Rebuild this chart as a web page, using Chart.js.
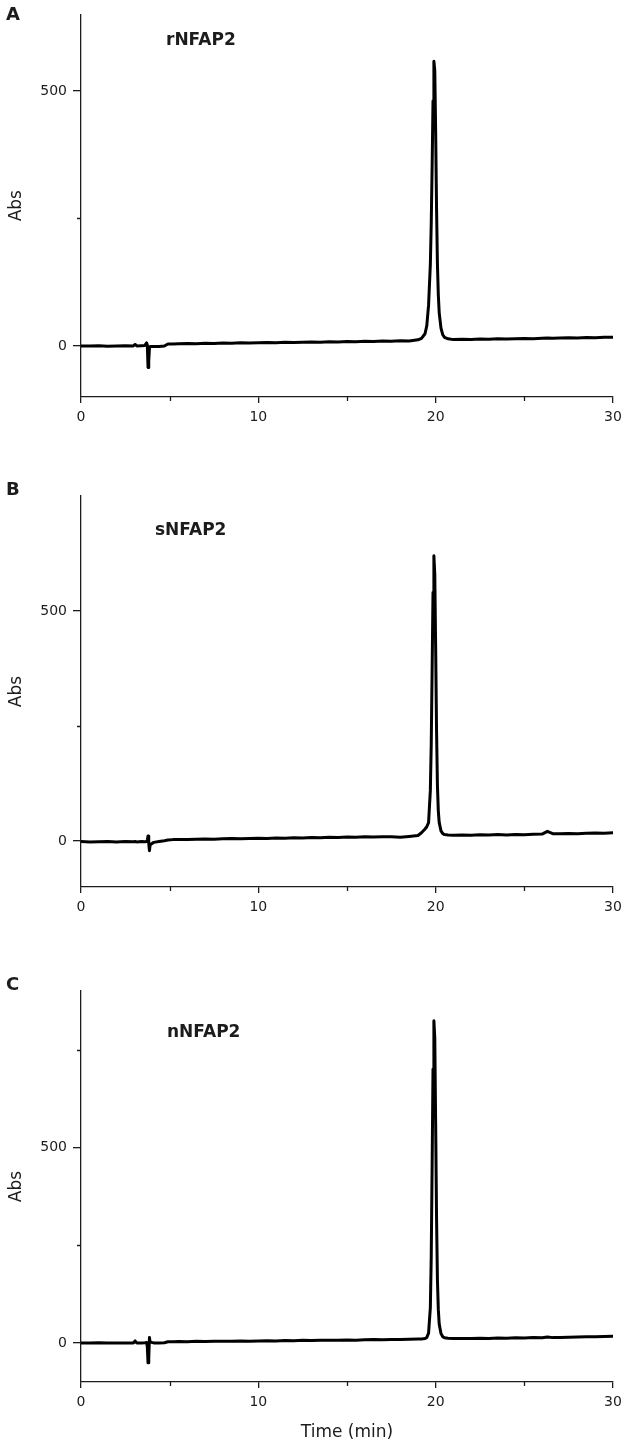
<!DOCTYPE html>
<html>
<head>
<meta charset="utf-8">
<title>NFAP2 chromatograms</title>
<script src="https://cdn.jsdelivr.net/npm/chart.js@4.4.1/dist/chart.umd.min.js"></script>
<style>
  body { margin: 0; background: #fff; }
  canvas { position: absolute; left: 0; }
</style>
</head>
<body>
<canvas id="chartA" width="630" height="480" style="top:0px"></canvas>
<canvas id="chartB" width="630" height="485" style="top:480px"></canvas>
<canvas id="chartC" width="630" height="490" style="top:965px"></canvas>
<script>
// retention time (min), shared by the three runs
const times = [
  0, 0.5, 1, 1.5, 2, 2.5, 2.95, 3.05, 3.15, 3.4,
  3.6, 3.7, 3.74, 3.78, 3.82, 3.86, 3.9, 4.1, 4.4, 4.7,
  4.9, 5.2, 5.5, 6, 6.5, 7, 7.5, 8, 8.5, 9,
  9.5, 10, 10.5, 11, 11.5, 12, 12.5, 13, 13.5, 14,
  14.5, 15, 15.5, 16, 16.5, 17, 17.5, 18, 18.5, 19,
  19.2, 19.4, 19.5, 19.6, 19.7, 19.75, 19.8, 19.85, 19.9, 19.95,
  20, 20.05, 20.1, 20.15, 20.2, 20.3, 20.4, 20.5, 20.7, 21,
  21.5, 22, 22.5, 23, 23.5, 24, 24.5, 25, 25.5, 26,
  26.3, 26.6, 27, 27.5, 28, 28.5, 29, 29.5, 30
];

// A - rNFAP2
const absA = [
  0, 0, 0.5, -0.5, 0, 0.5, 0, 3, 0, 0.5,
  1, 6, 2, -42, -30, -4, -1, -1, -1, 0,
  4, 4, 4.5, 5, 4.5, 5.5, 5, 6, 5.5, 6.5,
  6, 6.5, 7, 6.5, 7.5, 7, 7.5, 8, 7.5, 8.5,
  8, 9, 8.5, 9.5, 9, 10, 9.5, 10.5, 10, 12,
  15, 24, 40, 80, 160, 240, 350, 480, 558, 540,
  420, 270, 160, 100, 65, 35, 22, 17, 14, 12.5,
  13, 12.5, 13.5, 13, 14, 13.5, 14, 14.5, 14, 15,
  15.5, 15, 15.5, 16, 15.5, 16.5, 16, 17, 17
];

// B - sNFAP2
const absB = [
  -1, -2, -1.5, -1, -2, -1, -1.5, -1, -2, -1,
  -1.5, -1, 2, 11, -5, -21, -8, -3, -1, 0.5,
  2, 3, 3.5, 3, 4, 4.5, 4, 5, 5.5, 5,
  5.5, 6, 5.5, 6.5, 6, 7, 6.5, 7.5, 7, 8,
  7.5, 8.5, 8, 9, 8.5, 9.5, 9, 8, 10, 12,
  18, 26, 31, 40, 110, 210, 370, 540, 620, 580,
  420, 240, 120, 65, 40, 22, 16, 14, 13, 12.5,
  13, 12.5, 13.5, 13, 14, 13, 14, 13.5, 14.5, 15,
  21, 16, 15.5, 16.5, 16, 17, 17.5, 17, 18
];

// C - nNFAP2
const absC = [
  0, 0, 0.5, 0, -0.5, 0, 0, 5, 0, 0,
  0.5, 1, -10, -51, -40, 14, 2, 0, 0, 0.5,
  3, 3, 3.5, 3, 4, 3.5, 4.5, 4, 4.5, 5,
  4.5, 5, 5.5, 5, 6, 5.5, 6.5, 6, 7, 6.5,
  7, 7.5, 7, 8, 8.5, 8, 9, 8.5, 9.5, 10,
  10, 11, 14, 25, 90, 220, 450, 700, 824, 780,
  560, 320, 160, 85, 48, 24, 16, 13, 12, 11,
  11.5, 11, 12, 11.5, 12.5, 12, 13, 12.5, 13.5, 13,
  15, 13.5, 14, 14.5, 15, 15.5, 16, 16.5, 17
];

const xTicks = [0, 10, 20, 30];
const xMinorTicks = [5, 15, 25];
const yTicks = [0, 500];
const yMinorA = [250];
const yMinorB = [250];
const yMinorC = [250, 750];

const ink = '#1c1c1c';
const font = '"DejaVu Sans", "Liberation Sans", sans-serif';

// short unlabelled ticks between the labelled ones
const minorTicks = {
  id: 'minorTicks',
  afterDraw(chart, args, opts) {
    const { ctx, scales: { x, y } } = chart;
    ctx.save();
    ctx.strokeStyle = ink;
    ctx.lineWidth = 1.3;
    ctx.beginPath();
    opts.x.forEach(v => {
      const px = Math.round(x.getPixelForValue(v)) + 0.5;
      ctx.moveTo(px, x.top);
      ctx.lineTo(px, x.top + 4);
    });
    opts.y.forEach(v => {
      const py = Math.round(y.getPixelForValue(v)) + 0.5;
      ctx.moveTo(y.right, py);
      ctx.lineTo(y.right - 4, py);
    });
    ctx.stroke();
    ctx.restore();
  }
};

// panel letter and sample name
const panelText = {
  id: 'panelText',
  afterDraw(chart, args, opts) {
    const { ctx } = chart;
    ctx.save();
    ctx.fillStyle = ink;
    ctx.textBaseline = 'alphabetic';
    ctx.font = 'bold 18px ' + font;
    ctx.fillText(opts.letter, 6, opts.letterY);
    ctx.font = 'bold 17px ' + font;
    ctx.fillText(opts.name, opts.nameX, opts.nameY);
    ctx.restore();
  }
};

function makeChart(id, values, yMax, yMinor, padTop, xHeight, text, withXTitle) {
  return new Chart(document.getElementById(id), {
    type: 'line',
    data: {
      datasets: [{
        data: times.map((t, i) => ({ x: t, y: values[i] })),
        borderColor: '#000',
        borderWidth: 3,
        borderJoinStyle: 'round',
        borderCapStyle: 'round',
        pointRadius: 0,
        tension: 0,
        fill: false
      }]
    },
    options: {
      responsive: false,
      animation: false,
      layout: { padding: { top: padTop, right: 17, bottom: 0, left: 0 } },
      plugins: {
        legend: { display: false },
        tooltip: { enabled: false },
        minorTicks: { x: xMinorTicks, y: yMinor },
        panelText: text
      },
      scales: {
        x: {
          type: 'linear',
          min: 0,
          max: 30,
          afterBuildTicks: s => { s.ticks = xTicks.map(v => ({ value: v })); },
          afterFit: s => { s.height = xHeight; },
          grid: { drawOnChartArea: false, tickLength: 6, color: ink, lineWidth: 1.3 },
          border: { color: ink, width: 1.3 },
          ticks: { color: ink, padding: 6, maxRotation: 0, font: { family: font, size: 14 } },
          title: {
            display: withXTitle,
            text: 'Time (min)',
            color: ink,
            padding: { top: 4, bottom: 12 },
            font: { family: font, size: 17 }
          }
        },
        y: {
          min: -100,
          max: yMax,
          afterBuildTicks: s => { s.ticks = yTicks.map(v => ({ value: v })); },
          afterFit: s => { s.width = 81; },
          grid: { drawOnChartArea: false, tickLength: 8, color: ink, lineWidth: 1.3 },
          border: { color: ink, width: 1.3 },
          ticks: { color: ink, padding: 6, font: { family: font, size: 14 } },
          title: {
            display: true,
            text: 'Abs',
            color: ink,
            padding: { top: 6, bottom: 0 },
            font: { family: font, size: 17 }
          }
        }
      }
    },
    plugins: [minorTicks, panelText]
  });
}

makeChart('chartA', absA, 650, yMinorA, 6, 83,
  { letter: 'A', letterY: 20, name: 'rNFAP2', nameX: 166, nameY: 45 }, false);
makeChart('chartB', absB, 750, yMinorB, 16, 78,
  { letter: 'B', letterY: 15, name: 'sNFAP2', nameX: 155, nameY: 55 }, false);
makeChart('chartC', absC, 900, yMinorC, 26, 73,
  { letter: 'C', letterY: 25, name: 'nNFAP2', nameX: 167, nameY: 72 }, true);
</script>
</body>
</html>
